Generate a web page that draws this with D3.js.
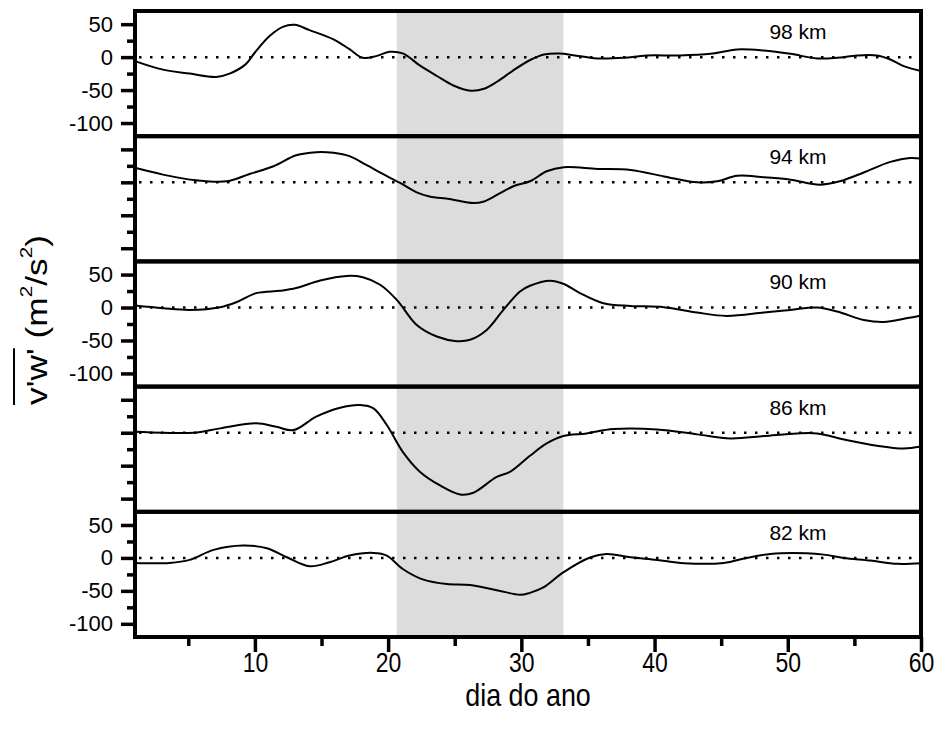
<!DOCTYPE html>
<html>
<head>
<meta charset="utf-8">
<script src="https://cdn.jsdelivr.net/npm/d3@7"></script>
<style>
  body { margin: 0; background: #fff; }
  text { font-family: "Liberation Sans", Arial, sans-serif; }
</style>
</head>
<body>
<div id="chart"></div>
<script>
// altitudes (top to bottom)
var panelLabels = ["98 km", "94 km", "90 km", "86 km", "82 km"];
var showYLabels = [true, false, true, false, true];

// [dia, v'w']
var s98 = [[1,-6],[3.1,-19],[5.1,-25],[7.1,-30],[8.1,-25],[9.3,-11],[10,7],[11.1,32],[12.1,46],[13,49],[14.1,41],[15.9,27],[17.1,12],[18.1,-1],[19.1,1.5],[20.1,8],[21.1,5.6],[22.4,-13],[23.7,-29],[24.9,-43],[26.2,-51],[27.2,-48],[28.2,-37],[29.4,-20],[30.7,-4],[31.7,4],[32.9,5.6],[33.9,3],[35.7,-2],[37.7,-1],[39.4,2.5],[41.9,2.5],[44.2,5],[46.2,11.7],[48.2,10],[50.2,5],[52.2,-2],[53.7,-1],[55.2,2.5],[56.7,2.5],[57.7,-3.6],[58.7,-13.7],[60,-21]];
var s94 = [[1,22],[3.1,11.7],[5.6,3],[7.9,1.5],[9.6,12.7],[11.4,24.4],[13.1,41],[14.6,45.8],[15.9,44.8],[17.1,39.7],[18.4,26],[19.6,12.7],[20.9,-1],[22.1,-14.8],[23.1,-21.4],[24.6,-25.4],[26.4,-31.5],[27.2,-29],[28.2,-18.8],[29.4,-6],[30.7,2],[31.9,16.8],[33.2,23],[35.7,20.4],[38.2,18.8],[40.7,9],[43.2,0],[44.7,1.5],[46.2,10],[48.2,7.6],[50.2,4],[52.4,-3.6],[53.9,1.5],[55.7,15],[57.7,31],[59.2,37],[60,36]];
var s90 = [[1,3],[3.1,-1],[5.1,-3.6],[7.4,0.5],[8.6,8],[10.1,21.9],[11.9,25.4],[13.1,29.5],[14.9,41],[16.9,48],[18.1,46],[19.4,34.6],[20.65,11.7],[22.15,-26.5],[23.65,-44],[25.15,-51],[26.15,-49],[27.4,-34],[28.65,-3.6],[29.9,24.4],[30.65,33],[32.15,40.7],[33.15,36],[34.4,21.9],[36.15,6.6],[38.2,2.5],[40.7,0.5],[43.2,-7.6],[45.4,-12.7],[48.2,-7.6],[50.2,-3.6],[52.2,0],[53.7,-6],[55.7,-18.8],[57.2,-21.9],[58.9,-16.3],[60,-12]];
var s86 = [[1,1.5],[3.1,0],[5.4,0],[7.4,6.6],[10.1,14.2],[11.6,9],[12.9,4],[14.6,24.4],[16.4,38],[17.9,42],[18.9,37],[19.9,11.7],[21.1,-29],[22.4,-59.5],[23.9,-80],[25.4,-93.6],[26.4,-91],[28.15,-67],[29.15,-59.5],[30.65,-35],[31.9,-16.3],[33.15,-5],[34.9,-1],[36.9,5.6],[40.2,5],[43.2,-2.5],[45.7,-8.6],[48.2,-5],[50.7,-1],[52.2,-1],[54.4,-11],[56.7,-19.8],[58.7,-24],[60,-21]];
var s82 = [[1,-7.6],[3.6,-7.6],[5.1,-3],[6.9,12.2],[9.1,18.8],[10.9,14.8],[12.4,1],[14.1,-12.7],[15.6,-6.6],[17.1,3.6],[18.9,7.6],[19.9,3.6],[21.1,-16.8],[22.65,-33],[24.4,-39.7],[26.15,-41.2],[28.15,-48.9],[29.9,-56],[30.65,-53],[31.65,-44.8],[33.15,-21.9],[35.2,1],[36.4,6],[38.2,1],[40.2,-3],[42.2,-8],[45.2,-7.6],[46.9,0],[48.7,6],[51.4,7],[52.7,5],[54.2,0],[56.2,-4],[58.2,-9],[60,-8]];
var series = [s98, s94, s90, s86, s82];

var shadeDays = [20.65, 33.15];
var xDomain = [1, 60];
var yDomain = [-120, 70];
var xTicks = [10, 20, 30, 40, 50, 60];
var xMinorTicks = [5, 15, 25, 35, 45, 55];
var yTicks = [50, 0, -50, -100];
var yMinorTicks = [25, -25, -75];

var width = 939,
    height = 737,
    left = 135,
    right = 921,
    top0 = 11,
    panelH = 125.2;

var svg = d3.select("#chart").append("svg")
    .attr("width", width)
    .attr("height", height);

svg.append("rect").attr("width", width).attr("height", height).attr("fill", "#fff");

var xScale = d3.scaleLinear().domain(xDomain).range([left, right]);
var bottom = top0 + panelH * series.length;

// grey band
svg.append("rect")
    .attr("x", xScale(shadeDays[0]))
    .attr("y", top0)
    .attr("width", xScale(shadeDays[1]) - xScale(shadeDays[0]))
    .attr("height", bottom - top0)
    .attr("fill", "#dcdcdc");

series.forEach(function (data, i) {
    var top = top0 + i * panelH;
    var yScale = d3.scaleLinear().domain(yDomain).range([top + panelH, top]);
    var g = svg.append("g");

    // zero line
    g.append("line")
        .attr("x1", xScale(xDomain[0]) + 4)
        .attr("x2", xScale(xDomain[1]) - 4)
        .attr("y1", yScale(0))
        .attr("y2", yScale(0))
        .attr("stroke", "#000")
        .attr("stroke-width", 2.5)
        .attr("stroke-dasharray", "2.5,8.5");

    var line = d3.line()
        .x(function (d) { return xScale(d[0]); })
        .y(function (d) { return yScale(d[1]); })
        .curve(d3.curveCatmullRom.alpha(0.5));

    g.append("path")
        .datum(data)
        .attr("fill", "none")
        .attr("stroke", "#000")
        .attr("stroke-width", 2)
        .attr("stroke-linejoin", "round")
        .attr("d", line);

    var yAxis = d3.axisLeft(yScale)
        .tickValues(yTicks)
        .tickSize(14)
        .tickPadding(8)
        .tickFormat(showYLabels[i] ? function (d) { return String(d); } : "");
    var yAxisG = g.append("g")
        .attr("transform", "translate(" + left + ",0)")
        .call(yAxis);
    yAxisG.select(".domain").remove();
    yAxisG.selectAll("line").attr("stroke-width", 3.5);
    yAxisG.selectAll("text")
        .style("font-size", "22px")
        .attr("fill", "#000");

    var yMinor = g.append("g")
        .attr("transform", "translate(" + left + ",0)")
        .call(d3.axisLeft(yScale).tickValues(yMinorTicks).tickSize(8).tickFormat(""));
    yMinor.select(".domain").remove();
    yMinor.selectAll("line").attr("stroke-width", 3.5);

    g.append("rect")
        .attr("x", left)
        .attr("y", top)
        .attr("width", right - left)
        .attr("height", panelH)
        .attr("fill", "none")
        .attr("stroke", "#000")
        .attr("stroke-width", 4);

    g.append("text")
        .attr("x", 798)
        .attr("y", top + 28)
        .attr("text-anchor", "middle")
        .style("font-size", "21px")
        .text(panelLabels[i]);
});

// x axis
var xAxisG = svg.append("g")
    .attr("transform", "translate(0," + bottom + ")")
    .call(d3.axisBottom(xScale).tickValues(xTicks).tickSize(15).tickPadding(0));
xAxisG.select(".domain").remove();
xAxisG.selectAll("line").attr("stroke-width", 3.5);
xAxisG.selectAll("text")
    .style("font-size", "28px")
    .attr("fill", "#000")
    .attr("transform", "scale(0.82,1)");

var xMinor = svg.append("g")
    .attr("transform", "translate(0," + bottom + ")")
    .call(d3.axisBottom(xScale).tickValues(xMinorTicks).tickSize(9).tickFormat(""));
xMinor.select(".domain").remove();
xMinor.selectAll("line").attr("stroke-width", 3.5);

svg.append("text")
    .attr("transform", "translate(528,706) scale(0.84,1)")
    .attr("text-anchor", "middle")
    .style("font-size", "32px")
    .text("dia do ano");

// y title with overline on v'w'
var yt = svg.append("g").attr("transform", "translate(47,320) rotate(-90)");
var ytInner = yt.append("g");
var title = ytInner.append("text")
    .attr("text-anchor", "middle")
    .style("font-size", "29px");
title.append("tspan").text("v'w' (m");
title.append("tspan").attr("dy", -15).style("font-size", "17px").text("2");
title.append("tspan").attr("dy", 15).text("/s");
title.append("tspan").attr("dy", -15).style("font-size", "17px").text("2");
title.append("tspan").attr("dy", 15).text(")");

var natural = title.node().getComputedTextLength();
var k = 170 / natural;
ytInner.attr("transform", "scale(" + k + ",1)");
var x0 = title.node().getStartPositionOfChar(0).x;
var ovLen = title.node().getSubStringLength(0, 4);
ytInner.append("line")
    .attr("x1", x0)
    .attr("x2", x0 + ovLen)
    .attr("y1", -33)
    .attr("y2", -33)
    .attr("stroke", "#000")
    .attr("stroke-width", 2);
</script>
</body>
</html>
